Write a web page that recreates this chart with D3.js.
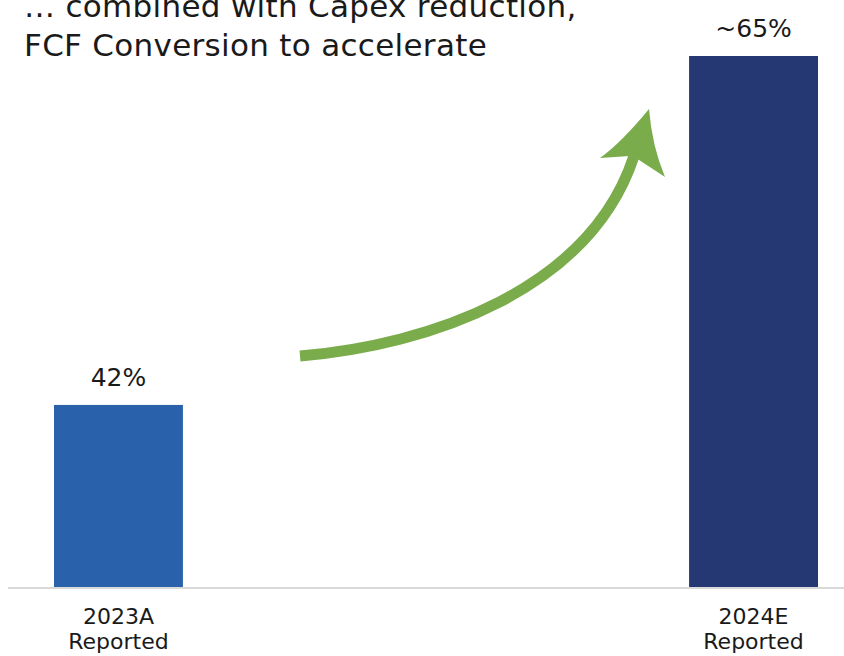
<!DOCTYPE html>
<html lang="en">
<head>
  <meta charset="UTF-8">
  <title>FCF Conversion</title>
  <style>
    body { margin: 0; background: #fff; }
    text { font-family: "DejaVu Sans", sans-serif; fill: #1a1a1a; }
  </style>
</head>
<body>

<svg id="chart" width="844" height="656"></svg>

<script src="https://d3js.org/d3.v7.min.js"></script>

<script>

    var categories = ["2023A", "2024E"],
        subLabels = ["Reported", "Reported"],
        values = [42, 65],
        valueLabels = ["42%", "~65%"],
        barColors = ["#2962AA", "#263873"],
        titleLines = ["\u2026 combined with Capex reduction,", "FCF Conversion to accelerate"];

    var svg = d3.select("#chart"),
        width = +svg.attr("width"),
        height = +svg.attr("height"),
        baseY = 587;

    var x = d3.scaleBand()
      .domain(categories)
      .range([54, 818])
      .paddingInner(0.797)
      .paddingOuter(0);

    // axis is not zero based in the original, 42% sits low
    var y = d3.scaleLinear()
      .domain([30, 65])
      .range([baseY, 56]);

    svg.selectAll("text.title")
      .data(titleLines)
      .enter().append("text")
      .attr("class", "title")
      .attr("x", 24)
      .attr("y", function (d, i) { return 17 + i * 39; })
      .style("font-size", "31px")
      .style("letter-spacing", "0.3px")
      .text(function (d) { return d; });

    svg.selectAll("rect.bar")
      .data(values)
      .enter().append("rect")
      .attr("class", "bar")
      .attr("x", function (d, i) { return x(categories[i]); })
      .attr("width", x.bandwidth())
      .attr("y", function (d) { return y(d); })
      .attr("height", function (d) { return baseY - y(d); })
      .attr("fill", function (d, i) { return barColors[i]; });

    svg.append("line")
      .attr("x1", 8).attr("x2", width)
      .attr("y1", baseY + 1).attr("y2", baseY + 1)
      .attr("stroke", "#d9d9d9")
      .attr("stroke-width", 2);

    svg.selectAll("text.val")
      .data(values)
      .enter().append("text")
      .attr("class", "val")
      .attr("x", function (d, i) { return x(categories[i]) + x.bandwidth() / 2; })
      .attr("y", function (d) { return y(d) - 19; })
      .attr("text-anchor", "middle")
      .style("font-size", "25px")
      .text(function (d, i) { return valueLabels[i]; });

    var ticks = svg.selectAll("g.tick")
      .data(categories)
      .enter().append("g")
      .attr("class", "tick")
      .attr("transform", function (d) {
        return "translate(" + (x(d) + x.bandwidth() / 2) + ",0)";
      });

    ticks.append("text")
      .attr("y", 624)
      .attr("text-anchor", "middle")
      .style("font-size", "22px")
      .text(function (d) { return d; });

    ticks.append("text")
      .attr("y", 649)
      .attr("text-anchor", "middle")
      .style("font-size", "22px")
      .text(function (d, i) { return subLabels[i]; });

    // green growth arrow
    var arrow = svg.append("g").attr("fill", "#7AAC4C");

    arrow.append("path")
      .attr("d", "M300,356 C430,345 590,290 634,156")
      .attr("fill", "none")
      .attr("stroke", "#7AAC4C")
      .attr("stroke-width", 11);

    arrow.append("path")
      .attr("d", "M649,109 Q622,142 600,158 L630,156 L636,158 L665,177 Q652,146 649,109 Z");

</script>

</body>
</html>
